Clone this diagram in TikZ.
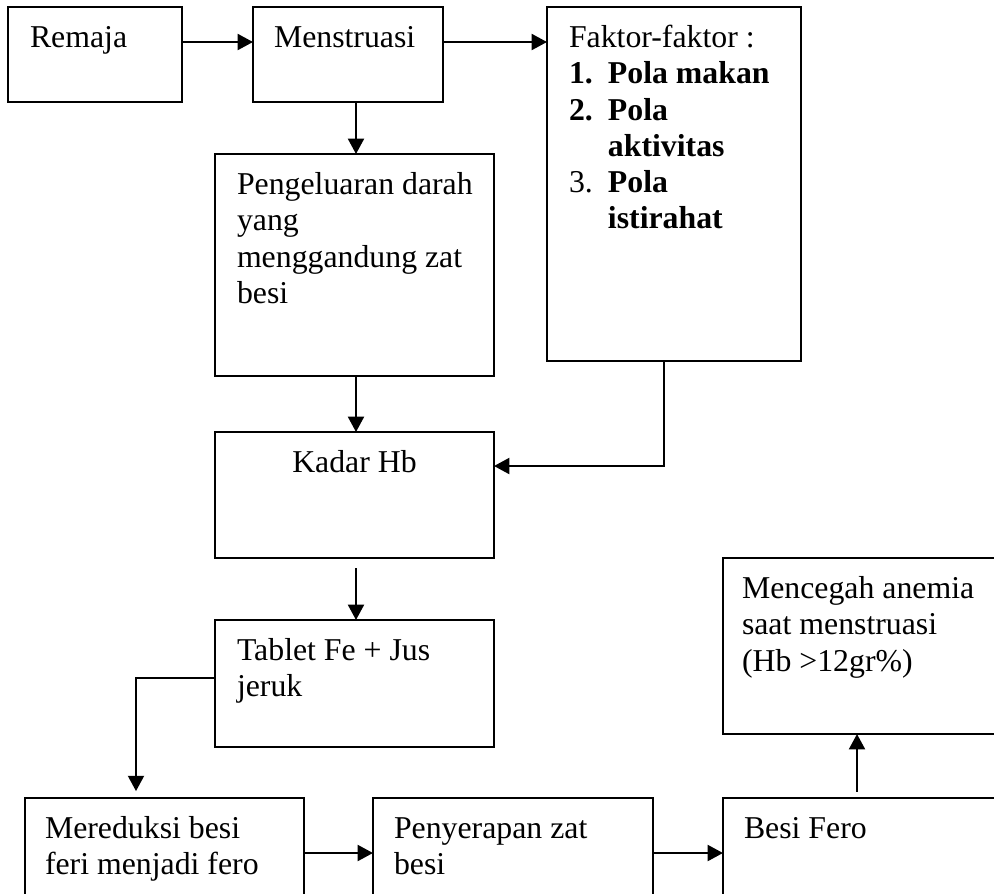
\documentclass[tikz,border=0pt]{standalone}
\usepackage{fontspec}
\setmainfont{Liberation Serif}
\usetikzlibrary{arrows.meta,calc}
\begin{document}
\begin{tikzpicture}[x=0.3774pt,y=-0.3774pt,
  box/.style={draw,line width=0.9pt,rectangle,inner sep=0pt,outer sep=0pt,anchor=north west},
  txt/.style={inner sep=0pt,outer sep=0pt,anchor=north west,align=left,font=\fontsize{12}{13.7}\selectfont},
  arr/.style={line width=0.9pt,-{Triangle[length=5.8pt,width=6pt]}}]
\useasboundingbox (0,0) rectangle (994,893);
\clip (0,0) rectangle (994,893);
% boxes
\node[box,minimum width=65.67pt,minimum height=35.85pt] (remaja) at (8,7) {};
\node[box,minimum width=71.71pt,minimum height=35.85pt] (menst) at (253,7) {};
\node[box,minimum width=95.86pt,minimum height=133.6pt] (faktor) at (547,7) {};
\node[box,minimum width=105.29pt,minimum height=83.78pt] (peng) at (215,154) {};
\node[box,minimum width=105.29pt,minimum height=47.55pt] (kadar) at (215,432) {};
\node[box,minimum width=105.29pt,minimum height=47.93pt] (tablet) at (215,620) {};
\node[box,minimum width=105.29pt,minimum height=49.06pt] (mered) at (25,798) {};
\node[box,minimum width=105.67pt,minimum height=49.06pt] (peny) at (373,798) {};
\node[box,minimum width=105.29pt,minimum height=49.06pt] (besi) at (723,798) {};
\node[box,minimum width=105.29pt,minimum height=66.42pt] (cegah) at (723,558) {};
% texts
\node[txt] (tremaja) at ($(remaja.north west)+(22,15)$) {\strut Remaja};
\node[txt] (tmenst) at ($(menst.north west)+(21,15)$) {\strut Menstruasi};
\node[txt] (tfaktor) at ($(faktor.north west)+(22,15)$) {\strut Faktor-faktor :\\
  \makebox[14.7pt][l]{\textbf{1.}}\textbf{Pola makan}\\
  \makebox[14.7pt][l]{\textbf{2.}}\textbf{Pola}\\
  \makebox[14.7pt][l]{}\textbf{aktivitas}\\
  \makebox[14.7pt][l]{3.}\textbf{Pola}\\
  \makebox[14.7pt][l]{}\textbf{istirahat}};
\node[txt] (tpeng) at ($(peng.north west)+(22,15)$) {\strut Pengeluaran darah\\yang\\menggandung zat\\besi};
\node[txt,anchor=north] (tkadar) at ($(kadar.north)+(0,15)$) {\strut Kadar Hb};
\node[txt] (ttablet) at ($(tablet.north west)+(22,15)$) {\strut Tablet Fe + Jus\\jeruk};
\node[txt] (tmered) at ($(mered.north west)+(20,15)$) {\strut Mereduksi besi\\feri menjadi fero};
\node[txt] (tpeny) at ($(peny.north west)+(21,15)$) {\strut Penyerapan zat\\besi};
\node[txt] (tbesi) at ($(besi.north west)+(21,15)$) {\strut Besi Fero};
\node[txt] (tcegah) at ($(cegah.north west)+(19,15)$) {\strut Mencegah anemia\\saat menstruasi\\(Hb >12gr\%)};
% connectors
\draw[arr] ($(remaja.north east)+(0,35)$) -- ($(menst.north west)+(0,35)$);
\draw[arr] ($(menst.north east)+(0,35)$) -- ($(faktor.north west)+(0,35)$);
\draw[arr] ($(menst.south west)+(103,0)$) -- ($(peng.north west)+(141,0)$);
\draw[arr] ($(peng.south west)+(141,0)$) -- ($(kadar.north west)+(141,0)$);
\draw[arr] ($(faktor.south west)+(117,0)$) |- ($(kadar.north east)+(0,34)$);
\draw[arr,shorten <=3.8pt] ($(kadar.south west)+(141,0)$) -- ($(tablet.north west)+(141,0)$);
\draw[arr,shorten >=2.6pt] ($(tablet.north west)+(0,58)$) -| ($(mered.north west)+(111,0)$);
\draw[arr] ($(mered.north east)+(0,55)$) -- ($(peny.north west)+(0,55)$);
\draw[arr] ($(peny.north east)+(0,55)$) -- ($(besi.north west)+(0,55)$);
\draw[arr,shorten <=2.3pt] ($(besi.north west)+(134,0)$) -- ($(cegah.south west)+(134,0)$);
\end{tikzpicture}
\end{document}
